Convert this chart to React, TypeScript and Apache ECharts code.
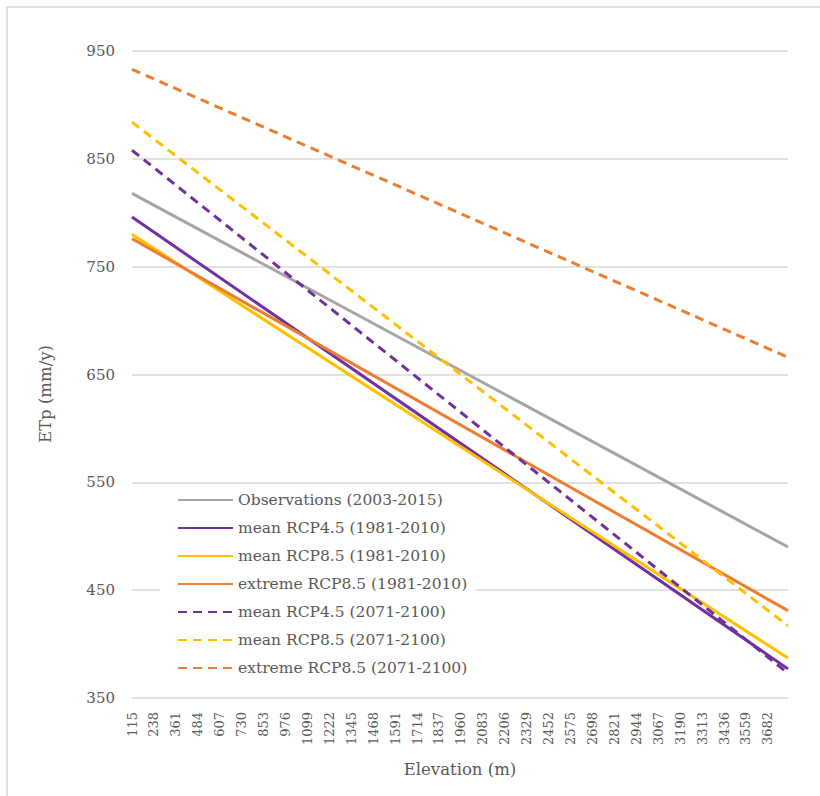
import React, { useEffect, useRef } from "react";
import * as echarts from "echarts";

// Elevation range covered by the lines (m)
const elevationRange = [115, 3795];
// Tick labels on the elevation axis
const tickLabels = [
  115, 238, 361, 484, 607, 730, 853, 976, 1099, 1222, 1345, 1468, 1591, 1714, 1837,
  1960, 2083, 2206, 2329, 2452, 2575, 2698, 2821, 2944, 3067, 3190, 3313, 3436, 3559, 3682,
];
// ETp (mm/y) at the lowest and highest elevation for each series
const observations = [818, 490];
const meanRcp45Hist = [796, 377];
const meanRcp85Hist = [780, 387];
const extremeRcp85Hist = [776, 431];
const meanRcp45Fut = [858, 373];
const meanRcp85Fut = [884, 417];
const extremeRcp85Fut = [933, 666];

const seriesNames = [
  "Observations (2003-2015)",
  "mean RCP4.5 (1981-2010)",
  "mean RCP8.5 (1981-2010)",
  "extreme RCP8.5 (1981-2010)",
  "mean RCP4.5 (2071-2100)",
  "mean RCP8.5 (2071-2100)",
  "extreme RCP8.5 (2071-2100)",
];
const seriesValues = [
  observations,
  meanRcp45Hist,
  meanRcp85Hist,
  extremeRcp85Hist,
  meanRcp45Fut,
  meanRcp85Fut,
  extremeRcp85Fut,
];
const seriesColors = ["#A5A5A5", "#7030A0", "#FFC000", "#ED7D31", "#7030A0", "#FFC000", "#ED7D31"];
const seriesDashed = [false, false, false, false, true, true, true];

const FONT = "DejaVu Serif";

export default function App() {
  const ref = useRef<HTMLDivElement>(null);
  useEffect(() => {
    document.body.style.margin = "0";
    if (!ref.current) return;
    const chart = echarts.init(ref.current, null, { renderer: "svg" });
    const series = seriesNames.map((name, i) => ({
      name,
      type: "line",
      symbol: "none",
      data: elevationRange.map((e, j) => [e, seriesValues[i][j]]),
      lineStyle: {
        color: seriesColors[i],
        width: 3,
        type: seriesDashed[i] ? [9, 6] : "solid",
      },
      itemStyle: { color: seriesColors[i] },
    }));
    chart.setOption({
      animation: false,
      textStyle: { fontFamily: FONT },
      grid: { left: 132, right: 32, top: 51, bottom: 98 },
      xAxis: {
        type: "value",
        min: elevationRange[0],
        max: elevationRange[1],
        axisLine: { show: false },
        axisTick: { show: false },
        splitLine: { show: false },
        axisLabel: {
          customValues: tickLabels,
          formatter: (v: number) => String(v),
          rotate: 90,
          margin: 14,
          fontSize: 13,
          color: "#595959",
          fontFamily: FONT,
        },
      },
      yAxis: {
        type: "value",
        min: 350,
        max: 950,
        interval: 100,
        axisLine: { show: false },
        axisTick: { show: false },
        splitLine: { lineStyle: { color: "#D9D9D9", width: 1.5 } },
        axisLabel: {
          fontSize: 15,
          color: "#595959",
          margin: 17,
          fontFamily: FONT,
          formatter: (v: number) => String(v),
        },
      },
      legend: {
        orient: "vertical",
        left: 160,
        top: 488,
        padding: [2, 8, 4, 17],
        backgroundColor: "#ffffff",
        itemWidth: 55,
        itemHeight: 14,
        itemGap: 8,
        itemStyle: { opacity: 0 },
        textStyle: { fontSize: 15.5, lineHeight: 20, color: "#595959", fontFamily: FONT },
        data: seriesNames,
      },
      graphic: [
        {
          type: "rect",
          shape: { x: 7, y: 7, width: 840, height: 820 },
          style: { fill: "none", stroke: "#D9D9D9", lineWidth: 1.5 },
          silent: true,
        },
        {
          type: "text",
          x: 45,
          y: 394,
          rotation: Math.PI / 2,
          style: {
            text: "ETp (mm/y)",
            fontSize: 16.5,
            fontFamily: FONT,
            fill: "#595959",
            align: "center",
            verticalAlign: "middle",
          },
        },
        {
          type: "text",
          x: 460,
          y: 769,
          style: {
            text: "Elevation (m)",
            fontSize: 16.5,
            fontFamily: FONT,
            fill: "#595959",
            align: "center",
            verticalAlign: "middle",
          },
        },
      ],
      series,
    });
    return () => chart.dispose();
  }, []);
  return <div ref={ref} style={{ width: 820, height: 796 }} />;
}
